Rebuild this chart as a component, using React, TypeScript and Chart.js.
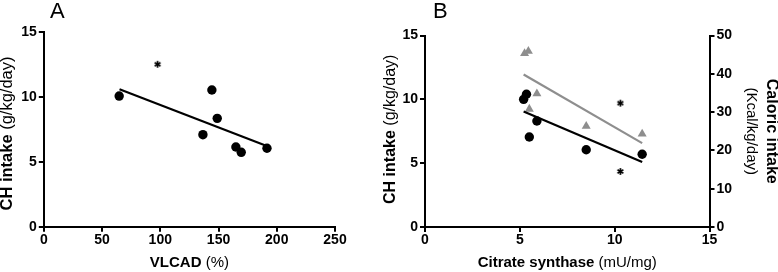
import React, { useEffect, useRef } from 'react';
import { Chart, registerables } from 'chart.js';
Chart.register(...registerables);

// ---- Panel A data ----
const vlcadX = [64.7, 144.3, 148.9, 136.6, 164.9, 169.5, 191.6];
const vlcadCH = [10.08, 10.55, 8.36, 7.1, 6.15, 5.74, 6.05];
const vlcadFitX = [65, 192];
const vlcadFitCH = [10.6, 6.2];
const vlcadStarX = [97.7];
const vlcadStarCH = [12.53];

// ---- Panel B data ----
const csX = [5.2, 5.35, 5.9, 5.5, 8.5, 11.45];
const csCH = [10.0, 10.4, 8.3, 7.05, 6.05, 5.7];
const csTriX = [5.25, 5.45, 5.9, 5.5, 8.5, 11.45];
const csKcal = [45.3, 45.9, 34.8, 30.8, 26.3, 24.3];
const csFitX = [5.2, 11.45];
const csFitCH = [9.05, 5.1];
const csFitKcal = [39.8, 21.9];
const csStarX = [10.3, 10.3];
const csStarCH = [9.7, 4.35];

// ---- axis ranges / ticks ----
const xRangeA = [0, 250];
const xStepA = 50;
const xRangeB = [0, 15];
const xStepB = 5;
const chRange = [0, 15];
const chStep = 5;
const kcalRange = [0, 50];
const kcalStep = 10;

const FAM = '"Liberation Sans", Arial, Helvetica, sans-serif';
const GRAY = '#8e8e8e';

Chart.defaults.font.family = FAM;
Chart.defaults.font.size = 14;
Chart.defaults.font.weight = 'bold' as any;
Chart.defaults.color = '#000';

const pts = (xs: number[], ys: number[]) => xs.map((x, i) => ({ x, y: ys[i] }));

function makeAsterisk(): HTMLCanvasElement {
  const c = document.createElement('canvas');
  c.width = 9;
  c.height = 9;
  const g = c.getContext('2d') as CanvasRenderingContext2D;
  g.strokeStyle = '#000';
  g.lineWidth = 1.7;
  g.lineCap = 'butt';
  const r = 3.4;
  for (let k = 0; k < 3; k++) {
    const ang = (Math.PI / 3) * k + Math.PI / 2;
    g.beginPath();
    g.moveTo(4.5 + Math.cos(ang) * r, 4.5 + Math.sin(ang) * r);
    g.lineTo(4.5 - Math.cos(ang) * r, 4.5 - Math.sin(ang) * r);
    g.stroke();
  }
  return c;
}

function drawMixed(ctx: CanvasRenderingContext2D, bold: string, reg: string, cx: number, cy: number, rot: number, size: number) {
  ctx.save();
  ctx.translate(cx, cy);
  ctx.rotate(rot);
  const bf = `bold ${size}px ${FAM}`;
  const rf = `normal ${size}px ${FAM}`;
  ctx.font = bf;
  const b = bold ? (reg ? bold + ' ' : bold) : '';
  const wb = b ? ctx.measureText(b).width : 0;
  ctx.font = rf;
  const wr = reg ? ctx.measureText(reg).width : 0;
  const x0 = -(wb + wr) / 2;
  ctx.textBaseline = 'middle';
  ctx.textAlign = 'left';
  ctx.fillStyle = '#000';
  if (b) {
    ctx.font = bf;
    ctx.fillText(b, x0, 0);
  }
  if (reg) {
    ctx.font = rf;
    ctx.fillText(reg, x0 + wb, 0);
  }
  ctx.restore();
}

interface TitleOpts {
  letter: string;
  letterX: number;
  xBold: string;
  xReg: string;
  yBold: string;
  yReg: string;
  yTitleX: number;
  yTitleDy: number;
  yTitleSize: number;
  rightBold?: string;
  rightReg?: string;
  rightX1?: number;
  rightX2?: number;
}

function titlesPlugin(o: TitleOpts) {
  return {
    id: 'customTitles',
    afterDraw(chart: any) {
      const ctx: CanvasRenderingContext2D = chart.ctx;
      const a = chart.chartArea;
      ctx.save();
      ctx.fillStyle = '#000';
      ctx.font = `normal 22px ${FAM}`;
      ctx.textAlign = 'left';
      ctx.textBaseline = 'alphabetic';
      ctx.fillText(o.letter, o.letterX, 18);
      const cxm = (a.left + a.right) / 2;
      const cym = (a.top + a.bottom) / 2;
      drawMixed(ctx, o.xBold, o.xReg, cxm, 263, 0, 15);
      drawMixed(ctx, o.yBold, o.yReg, o.yTitleX, cym + o.yTitleDy, -Math.PI / 2, o.yTitleSize);
      if (o.rightBold) {
        drawMixed(ctx, o.rightBold, '', o.rightX1 as number, cym, Math.PI / 2, 16);
        drawMixed(ctx, '', o.rightReg as string, o.rightX2 as number, cym, Math.PI / 2, 15);
      }
      ctx.restore();
    },
  };
}

const tickFont = { family: FAM, size: 14, weight: 'bold' };

function axis(min: number, max: number, step: number, pad: number, extra: any) {
  return {
    type: 'linear',
    min,
    max,
    ticks: { stepSize: step, font: tickFont, color: '#000', padding: pad },
    grid: {
      drawOnChartArea: false,
      drawTicks: true,
      tickLength: 5,
      tickWidth: 2,
      lineWidth: 2,
      tickColor: '#000',
      color: '#000',
    },
    border: { display: true, color: '#000', width: 2 },
    ...extra,
  };
}

function useChart(ref: React.RefObject<HTMLCanvasElement>, make: () => any) {
  useEffect(() => {
    if (!ref.current) return;
    const chart = new Chart(ref.current, make());
    return () => chart.destroy();
  }, []);
}

const W_A = 380;
const W_B = 398;
const H = 272;

export default function App() {
  const refA = useRef<HTMLCanvasElement>(null);
  const refB = useRef<HTMLCanvasElement>(null);

  useChart(refA, () => ({
    type: 'scatter',
    data: {
      datasets: [
        {
          data: pts(vlcadFitX, vlcadFitCH),
          showLine: true,
          borderColor: '#000',
          borderWidth: 2.2,
          pointRadius: 0,
        },
        {
          data: pts(vlcadX, vlcadCH),
          pointStyle: 'circle',
          pointRadius: 4.7,
          backgroundColor: '#000',
          borderWidth: 0,
        },
        {
          data: pts(vlcadStarX, vlcadStarCH),
          pointStyle: makeAsterisk(),
          pointRadius: 4,
        },
      ],
    },
    options: {
      responsive: false,
      animation: false,
      layout: { padding: { left: 0, top: 32.3, right: W_A - 335, bottom: 0 } },
      plugins: { legend: { display: false }, tooltip: { enabled: false }, title: { display: false } },
      scales: {
        x: axis(xRangeA[0], xRangeA[1], xStepA, 0, {
          position: 'bottom',
          afterFit: (s: any) => { s.height = H - 226.7; },
        }),
        y: axis(chRange[0], chRange[1], chStep, 2, {
          position: 'left',
          afterFit: (s: any) => { s.width = 43.8; },
        }),
      },
    },
    plugins: [
      titlesPlugin({
        letter: 'A',
        letterX: 50,
        xBold: 'VLCAD',
        xReg: '(%)',
        yBold: 'CH intake',
        yReg: '(g/kg/day)',
        yTitleX: 7.5,
        yTitleDy: 4,
        yTitleSize: 16.5,
      }),
    ],
  }));

  useChart(refB, () => ({
    type: 'scatter',
    data: {
      datasets: [
        {
          data: pts(csFitX, csFitKcal),
          yAxisID: 'y1',
          showLine: true,
          borderColor: GRAY,
          borderWidth: 2.2,
          pointRadius: 0,
        },
        {
          data: pts(csFitX, csFitCH),
          yAxisID: 'y',
          showLine: true,
          borderColor: '#000',
          borderWidth: 2.2,
          pointRadius: 0,
        },
        {
          data: pts(csTriX, csKcal),
          yAxisID: 'y1',
          pointStyle: 'triangle',
          pointRadius: 5.2,
          backgroundColor: GRAY,
          borderWidth: 0,
        },
        {
          data: pts(csX, csCH),
          yAxisID: 'y',
          pointStyle: 'circle',
          pointRadius: 4.7,
          backgroundColor: '#000',
          borderWidth: 0,
        },
        {
          data: pts(csStarX, csStarCH),
          yAxisID: 'y',
          pointStyle: makeAsterisk(),
          pointRadius: 4,
        },
      ],
    },
    options: {
      responsive: false,
      animation: false,
      layout: { padding: { left: 0, top: 35.5, right: 0, bottom: 0 } },
      plugins: { legend: { display: false }, tooltip: { enabled: false }, title: { display: false } },
      scales: {
        x: axis(xRangeB[0], xRangeB[1], xStepB, 0, {
          position: 'bottom',
          afterFit: (s: any) => { s.height = H - 227; },
        }),
        y: axis(chRange[0], chRange[1], chStep, 2, {
          position: 'left',
          afterFit: (s: any) => { s.width = 425 - 380; },
        }),
        y1: axis(kcalRange[0], kcalRange[1], kcalStep, 2, {
          position: 'right',
          afterFit: (s: any) => { s.width = W_B - (709.5 - 380); },
        }),
      },
    },
    plugins: [
      titlesPlugin({
        letter: 'B',
        letterX: 433 - 380,
        xBold: 'Citrate synthase',
        xReg: '(mU/mg)',
        yBold: 'CH intake',
        yReg: '(g/kg/day)',
        yTitleX: 391 - 380,
        yTitleDy: -2,
        yTitleSize: 16,
        rightBold: 'Caloric intake',
        rightReg: '(Kcal/kg/day)',
        rightX1: 771.5 - 380,
        rightX2: 751 - 380,
      }),
    ],
  }));

  return (
    <div style={{ position: 'absolute', left: 0, top: 0, width: 778, height: H, background: '#fff' }}>
      <canvas ref={refA} width={W_A} height={H} style={{ position: 'absolute', left: 0, top: 0, width: W_A, height: H }} />
      <canvas ref={refB} width={W_B} height={H} style={{ position: 'absolute', left: W_A, top: 0, width: W_B, height: H }} />
    </div>
  );
}
